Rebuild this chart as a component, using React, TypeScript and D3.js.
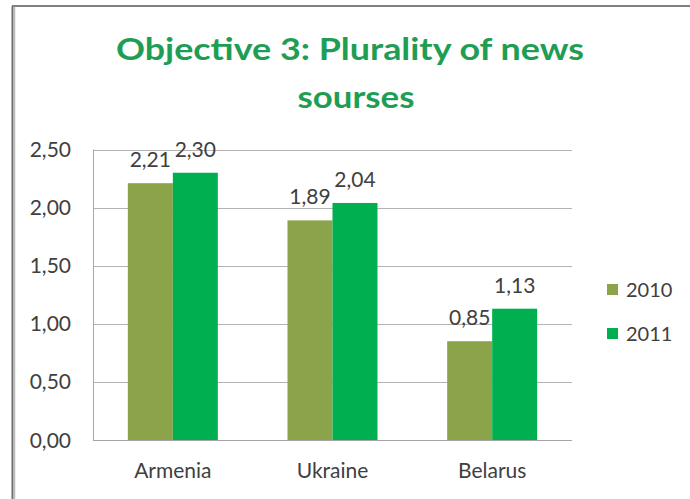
import React from "react";
import * as d3 from "d3";

const categories = ["Armenia", "Ukraine", "Belarus"];
const seriesNames = ["2010", "2011"];
const values2010 = [2.21, 1.89, 0.85];
const values2011 = [2.3, 2.04, 1.13];
const yTicks = [0, 0.5, 1, 1.5, 2, 2.5];
const titleLines = ["Objective 3: Plurality of news", "sourses"];

const colors = ["#8ba44a", "#00b050"];
const font = "Lato, 'Open Sans', sans-serif";
const fmt = (v: number) => v.toFixed(2).replace(".", ",");

export default function App() {
  const W = 690, H = 499;
  const left = 93, right = 572, top = 149.5, bottom = 440;
  const x = d3.scaleBand<string>().domain(categories).range([left, right]).padding(0);
  const barW = 45;
  const inner = d3.scaleBand<string>().domain(seriesNames).range([0, barW * 2]).padding(0);
  const y = d3.scaleLinear().domain([0, 2.5]).range([bottom, top]);
  const series = [values2010, values2011];

  return (
    <svg width={W} height={H} style={{ position: "absolute", left: 0, top: 0, background: "#fff" }}>
      <rect x={0} y={0} width={W} height={H} fill="#fff" />
      <line x1={12.5} y1={6} x2={12.5} y2={H} stroke="#6e6e6e" strokeWidth={2} />
      <line x1={14.5} y1={7} x2={14.5} y2={H} stroke="#bdbdbd" strokeWidth={1.5} />
      <line x1={12} y1={6} x2={W} y2={6} stroke="#808080" strokeWidth={2} />
      {titleLines.map((t, i) => (
        <text key={t} x={i === 0 ? 350 : 356} y={i === 0 ? 60 : 108} textAnchor="middle"
          fontFamily={font} fontWeight={700} fontSize={31} fill="#1e9e55"
          textLength={i === 0 ? 468 : 117} lengthAdjust="spacingAndGlyphs">{t}</text>
      ))}
      {yTicks.map((t) => (
        <g key={t}>
          <line x1={left} x2={right} y1={Math.round(y(t)) + 0.5} y2={Math.round(y(t)) + 0.5}
            stroke={t === 0 ? "#a6a6a6" : "#b3b3b3"} strokeWidth={1} />
          <text x={71} y={y(t)} dy="0.36em" textAnchor="end" fontFamily={font} fontSize={21} fill="#404040">{fmt(t)}</text>
        </g>
      ))}
      <line x1={left + 0.5} x2={left + 0.5} y1={top} y2={bottom} stroke="#a6a6a6" />
      {categories.map((c, ci) => {
        const cx = (x(c) as number) + x.bandwidth() / 2;
        const g0 = cx - barW;
        return (
          <g key={c}>
            {seriesNames.map((s, si) => {
              const v = series[si][ci];
              const bx = g0 + (inner(s) as number);
              return (
                <g key={s}>
                  <rect x={bx} y={y(v)} width={inner.bandwidth()} height={bottom - y(v)} fill={colors[si]} />
                  <text x={bx + inner.bandwidth() / 2} y={y(v) - 16} textAnchor="middle" fontFamily={font} fontSize={21} fill="#404040">{fmt(v)}</text>
                </g>
              );
            })}
            <text x={cx} y={478} textAnchor="middle" fontFamily={font} fontSize={21} fill="#404040">{c}</text>
          </g>
        );
      })}
      {seriesNames.map((s, i) => (
        <g key={s}>
          <rect x={607} y={284 + i * 44} width={11} height={11} fill={colors[i]} />
          <text x={626} y={290 + i * 44} dy="0.36em" fontFamily={font} fontSize={20} fill="#404040">{s}</text>
        </g>
      ))}
    </svg>
  );
}
